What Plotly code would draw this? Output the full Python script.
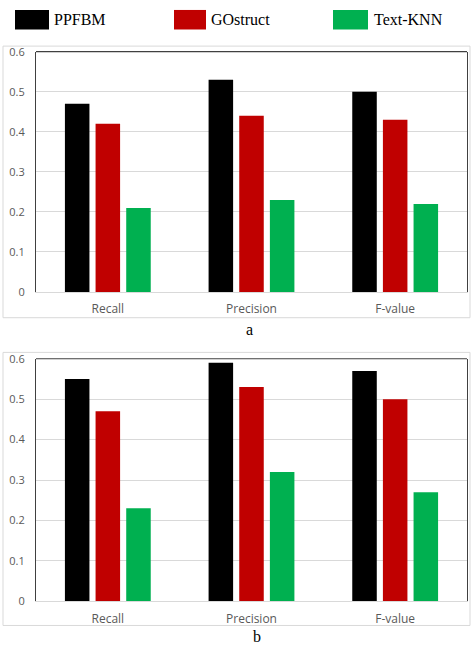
import plotly.graph_objects as go

W, H = 472, 653

categories = ["Recall", "Precision", "F-value"]
series_names = ["PPFBM", "GOstruct", "Text-KNN"]
series_colors = ["#000000", "#C00000", "#00B050"]

# Panel a
a_ppfbm = [0.47, 0.53, 0.50]
a_gostruct = [0.42, 0.44, 0.43]
a_textknn = [0.21, 0.23, 0.22]

# Panel b
b_ppfbm = [0.55, 0.59, 0.57]
b_gostruct = [0.47, 0.53, 0.50]
b_textknn = [0.23, 0.32, 0.27]

y_ticks = [0, 0.1, 0.2, 0.3, 0.4, 0.5, 0.6]
y_ticklabels = ["0", "0.1", "0.2", "0.3", "0.4", "0.5", "0.6"]
panel_labels = ["a", "b"]


def px_x(x):
    return x / W


def px_y(y):
    return 1 - y / H


fig = go.Figure()

panels = [
    ("x", "y", [a_ppfbm, a_gostruct, a_textknn]),
    ("x2", "y2", [b_ppfbm, b_gostruct, b_textknn]),
]
for xa, ya, vals in panels:
    for name, color, v in zip(series_names, series_colors, vals):
        fig.add_trace(go.Bar(
            x=categories, y=v, name=name, xaxis=xa, yaxis=ya,
            marker=dict(color=color, line=dict(width=0)),
            showlegend=False,
        ))

xdom = [px_x(36), px_x(467)]
ydom_a = [px_y(290.7), px_y(44.7)]
ydom_b = [px_y(607.3), px_y(359)]

tickfont = dict(family="Open Sans, Liberation Sans, sans-serif", size=11, color="#595959")
catfont = dict(family="Open Sans, Liberation Sans, sans-serif", size=12, color="#595959")

common_x = dict(domain=xdom, showline=True, linecolor="#d9d9d9", linewidth=1,
                ticks="", tickfont=catfont, ticklabelstandoff=6, showgrid=False)
common_y = dict(range=[0, 0.6], tickvals=y_ticks, ticktext=y_ticklabels,
                showgrid=True, gridcolor="#d9d9d9", gridwidth=1,
                showline=True, linecolor="#404040", linewidth=1.2, mirror=True,
                ticks="", tickfont=tickfont, ticklabelstandoff=8, zeroline=False)

fig.update_layout(
    width=W, height=H,
    margin=dict(l=0, r=0, t=0, b=0),
    paper_bgcolor="white", plot_bgcolor="white",
    barmode="group", bargap=0.36, bargroupgap=0.2,
    showlegend=False,
    xaxis=dict(**common_x, anchor="y"),
    yaxis=dict(**common_y, domain=ydom_a, anchor="x"),
    xaxis2=dict(**common_x, anchor="y2"),
    yaxis2=dict(**common_y, domain=ydom_b, anchor="x2"),
)

shapes = []
annotations = []

# Top border lines of plot areas (dark), bottom stays light
for y_top in (44.7, 359):
    shapes.append(dict(type="line", xref="paper", yref="paper",
                       x0=xdom[0], x1=xdom[1], y0=px_y(y_top), y1=px_y(y_top),
                       line=dict(color="#404040", width=1.2)))

# Outer chart boxes
for top, bot in ((39, 317), (352.5, 632)):
    shapes.append(dict(type="rect", xref="paper", yref="paper",
                       x0=px_x(3), x1=px_x(470), y0=px_y(bot), y1=px_y(top),
                       line=dict(color="#d9d9d9", width=1), fillcolor="rgba(0,0,0,0)",
                       layer="below"))

# Legend swatches and labels
legend_pos = [(15, 49, 52), (174, 206, 209), (333, 368, 372)]
for (x0, x1, tx), name, color in zip(legend_pos, series_names, series_colors):
    shapes.append(dict(type="rect", xref="paper", yref="paper",
                       x0=px_x(x0), x1=px_x(x1), y0=px_y(22), y1=px_y(2),
                       line=dict(width=0), fillcolor=color))
    annotations.append(dict(text=name, xref="paper", yref="paper",
                            x=px_x(tx), y=px_y(11.5), xanchor="left", yanchor="middle",
                            showarrow=False,
                            font=dict(family="Liberation Serif, serif", size=16, color="#000000")))

# Panel labels
for lab, (x, y) in zip(panel_labels, [(249, 329), (257, 643)]):
    annotations.append(dict(text=lab, xref="paper", yref="paper",
                            x=px_x(x), y=px_y(y), xanchor="center", yanchor="middle",
                            showarrow=False,
                            font=dict(family="Liberation Serif, serif", size=16, color="#000000")))

fig.update_layout(shapes=shapes, annotations=annotations)

fig.write_html("out.html",
               config={"displayModeBar": False},
               post_script="document.body.style.margin='0';document.body.style.overflow='hidden';")
